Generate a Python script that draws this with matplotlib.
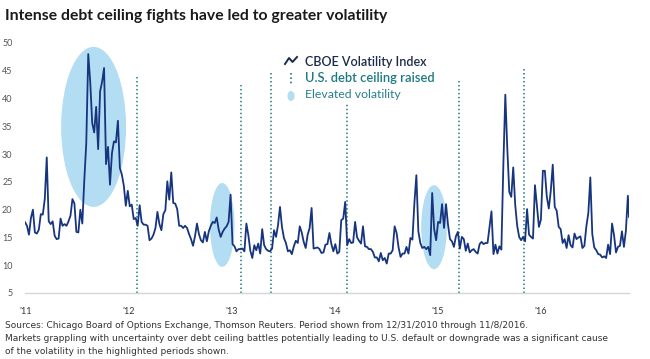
import matplotlib
matplotlib.use("Agg")
import matplotlib.pyplot as plt
import matplotlib.dates as mdates
from matplotlib.patches import Ellipse
from matplotlib.lines import Line2D
import pandas as pd

# ---------------- data (weekly CBOE VIX readings) ----------------
vix_start = ("2010-12-31", 17.75)
vix_2011 = [17.1, 15.5, 18.5, 20.0, 15.9, 15.7, 16.4, 19.2, 19.1, 21.9, 29.4, 17.9,
            17.4, 17.9, 15.3, 14.7, 14.8, 18.4, 17.1, 17.4, 17.1, 17.9, 18.9, 21.9, 21.1,
            16.0, 15.9, 20.0, 17.5, 25.3, 32.0, 48.0, 43.0, 35.6, 33.9, 38.5, 30.9, 41.3,
            43.0, 45.5, 28.2, 31.3, 24.5, 30.2, 32.3, 32.1, 36.0, 27.5, 26.3, 24.3, 20.7, 23.4]
vix_2012 = [20.6, 20.9, 18.3, 18.5, 17.1, 20.8, 17.8, 17.3, 17.3, 17.1, 14.5, 14.8, 15.5,
            16.7, 19.6, 17.4, 16.3, 19.2, 19.9, 25.1, 21.8, 26.7, 21.2, 21.1, 20.1, 17.1,
            17.1, 16.7, 17.1, 16.7, 15.6, 14.7, 13.5, 15.2, 17.5, 15.6, 14.5, 14.1, 16.0,
            14.3, 16.1, 17.1, 17.8, 17.6, 18.6, 16.4, 15.1, 16.0, 16.6, 17.0, 17.8, 22.7]
vix_2013 = [13.8, 13.4, 12.5, 12.9, 12.9, 13.0, 12.5, 17.5, 15.4, 12.6, 11.3, 13.6, 12.7,
            13.9, 12.1, 16.5, 13.6, 12.9, 12.6, 12.5, 13.0, 16.3, 15.1, 17.2, 20.5, 16.9,
            14.9, 14.0, 12.5, 12.7, 12.0, 13.4, 14.4, 14.0, 17.0, 15.9, 14.2, 13.1, 15.5,
            16.7, 20.3, 13.0, 13.1, 13.2, 12.9, 12.2, 12.3, 13.7, 13.8, 15.8, 13.8, 12.5]
vix_2014 = [13.8, 12.1, 12.4, 18.1, 18.4, 21.4, 13.6, 14.7, 14.0, 14.1, 17.8, 15.0, 14.4,
            13.9, 17.0, 13.4, 13.3, 12.9, 12.9, 12.4, 11.4, 11.4, 10.7, 12.2, 10.9, 11.3,
            10.3, 12.1, 12.1, 12.7, 17.0, 15.8, 13.2, 11.5, 12.1, 12.1, 13.3, 12.1, 14.9,
            14.6, 21.2, 26.2, 16.1, 14.0, 13.1, 13.3, 12.9, 13.3, 11.8, 23.0, 16.5, 14.5]
vix_2015 = [17.8, 17.6, 21.0, 16.7, 21.0, 17.3, 14.7, 14.3, 13.3, 15.2, 16.0, 13.0, 15.1,
            14.7, 12.6, 13.9, 12.3, 12.7, 12.9, 12.4, 12.1, 13.8, 14.2, 13.8, 14.0, 14.0,
            16.8, 19.7, 12.0, 13.7, 12.1, 13.4, 12.8, 28.0, 40.7, 31.0, 23.2, 22.3, 27.6,
            20.9, 17.1, 15.1, 14.5, 15.1, 14.3, 20.1, 15.5, 15.1, 14.8, 24.4, 20.7, 16.9]
vix_2016 = [18.2, 27.0, 27.0, 22.3, 20.2, 23.4, 28.1, 20.5, 19.8, 16.9, 16.5, 14.0, 14.7,
            13.1, 15.4, 13.6, 13.2, 15.7, 14.7, 15.0, 15.2, 13.1, 13.5, 17.0, 19.4, 25.8,
            15.6, 13.2, 12.7, 12.0, 11.9, 11.4, 11.6, 11.3, 13.7, 12.0, 17.5, 15.4, 12.3,
            13.3, 13.5, 16.1, 13.3, 16.2, 22.5]
vix_end = ("2016-11-08", 18.7)
first_fridays = {2011: "2011-01-07", 2012: "2012-01-06", 2013: "2013-01-04",
                 2014: "2014-01-03", 2015: "2015-01-02", 2016: "2016-01-01"}

debt_ceiling_dates = ["2012-01-30", "2013-02-04", "2013-05-19", "2014-02-15",
                      "2015-03-16", "2015-11-02"]
# elevated-volatility periods: (start, end, low, high)
elevated_periods = [("2011-05-08", "2011-12-24", 20.5, 49.3),
                    ("2012-10-16", "2013-01-11", 9.7, 24.8),
                    ("2014-11-03", "2015-02-02", 9.3, 24.4)]

year_labels = ["'11", "'12", "'13", "'14", "'15", "'16"]
yticks = [5, 10, 15, 20, 25, 30, 35, 40, 45, 50]

title = "Intense debt ceiling fights have led to greater volatility"
legend_labels = ["CBOE Volatility Index", "U.S. debt ceiling raised", "Elevated volatility"]
footer = ["Sources: Chicago Board of Options Exchange, Thomson Reuters. Period shown from 12/31/2010 through 11/8/2016.",
          "Markets grappling with uncertainty over debt ceiling battles potentially leading to U.S. default or downgrade was a significant cause",
          "of the volatility in the highlighted periods shown."]

# ---------------- build series ----------------
series = [vix_2011, vix_2012, vix_2013, vix_2014, vix_2015, vix_2016]
dates = [pd.Timestamp(vix_start[0])]
vals = [vix_start[1]]
for yr, lst in zip(range(2011, 2017), series):
    dates += list(pd.date_range(first_fridays[yr], periods=len(lst), freq="7D"))
    vals += lst
dates.append(pd.Timestamp(vix_end[0]))
vals.append(vix_end[1])

# ---------------- figure ----------------
W, H = 650, 359
fig = plt.figure(figsize=(W / 100, H / 100), dpi=100)
fig.patch.set_facecolor("white")
ax = fig.add_axes([25 / W, 1 - 293 / H, (629 - 25) / W, 250 / H])

NAVY = "#17347f"
TEAL = "#1d7a82"
ELL = "#b3ddf2"

for s, e, lo, hi in elevated_periods:
    x0 = mdates.date2num(pd.Timestamp(s))
    x1 = mdates.date2num(pd.Timestamp(e))
    ax.add_patch(Ellipse(((x0 + x1) / 2, (lo + hi) / 2), x1 - x0, hi - lo,
                         facecolor=ELL, edgecolor="none", zorder=1))

tops = [43.9, 42.4, 44.6, 39.2, 43.3, 45.7]
for d, t in zip(debt_ceiling_dates, tops):
    ax.vlines(pd.Timestamp(d), 5, t, colors=TEAL, linestyles=(0, (1, 1.6)),
              linewidth=1.1, zorder=2)

ax.plot(dates, vals, color=NAVY, linewidth=1.3, zorder=3, solid_joinstyle="round")

ax.set_xlim(pd.Timestamp("2010-12-31"), pd.Timestamp("2016-11-08"))
ax.set_ylim(5, 50)
ax.set_yticks(yticks)
ax.set_yticklabels([str(v) for v in yticks])
ax.set_xticks([pd.Timestamp(f"{y}-01-01") for y in range(2011, 2017)])
ax.set_xticklabels(year_labels)
ax.tick_params(axis="both", length=0)
ax.tick_params(axis="y", pad=9, labelsize=6.5, labelcolor="#555555")
ax.tick_params(axis="x", pad=10, labelsize=6.5, labelcolor="#333333")
for sp in ["top", "right", "left"]:
    ax.spines[sp].set_visible(False)
ax.spines["bottom"].set_color("#d6d6d6")
ax.spines["bottom"].set_linewidth(1.0)
for lab in ax.get_yticklabels() + ax.get_xticklabels():
    lab.set_family(["Lato", "DejaVu Sans"])

def fx(x):
    return x / W

def fy(y):
    return 1 - y / H

t_title = fig.text(fx(5), fy(20), title, family=["Lato", "DejaVu Sans"], weight="bold",
                   fontsize=11, color="#1a1a1a", va="baseline", ha="left")

leg_colors = ["#1c2a4c", TEAL, "#2a7f8e"]
leg_weights = ["semibold", "semibold", "normal"]
leg_base = [66, 81.5, 97.5]
leg_w = [122, 130, 97]
leg_texts = []
for lab, c, wgt, b in zip(legend_labels, leg_colors, leg_weights, leg_base):
    leg_texts.append(fig.text(fx(305), fy(b), lab, family=["Lato", "DejaVu Sans"], weight=wgt,
                              fontsize=9, color=c, va="baseline", ha="left"))

fig.add_artist(Line2D([fx(285), fx(289), fx(292.5), fx(297)],
                      [fy(64), fy(58), fy(62), fy(57)], color="#1c2a4c", linewidth=1.4,
                      transform=fig.transFigure))
fig.add_artist(Line2D([fx(291), fx(291)], [fy(73), fy(84)], color=TEAL, linewidth=1.2,
                      linestyle=(0, (1, 1.6)), transform=fig.transFigure))
fig.add_artist(Ellipse((fx(291), fy(96)), 7 / W, 10 / H, facecolor=ELL, edgecolor="none",
                       transform=fig.transFigure))

foot_base = [328, 341, 354]
foot_texts = []
for line, b in zip(footer, foot_base):
    foot_texts.append(fig.text(fx(5), fy(b), line, family=["Liberation Sans Narrow", "DejaVu Sans"],
                               fontsize=8, color="#333333", va="baseline", ha="left"))

fig.canvas.draw()
r = fig.canvas.get_renderer()

def fit(t, target):
    w = t.get_window_extent(r).width
    t.set_fontsize(t.get_fontsize() * target / w)

fit(t_title, 382)
for t, w in zip(leg_texts, leg_w):
    fit(t, w)
fit(foot_texts[1], 604)
for t in (foot_texts[0], foot_texts[2]):
    t.set_fontsize(foot_texts[1].get_fontsize())

fig.savefig("out.png", dpi=100, facecolor="white")
